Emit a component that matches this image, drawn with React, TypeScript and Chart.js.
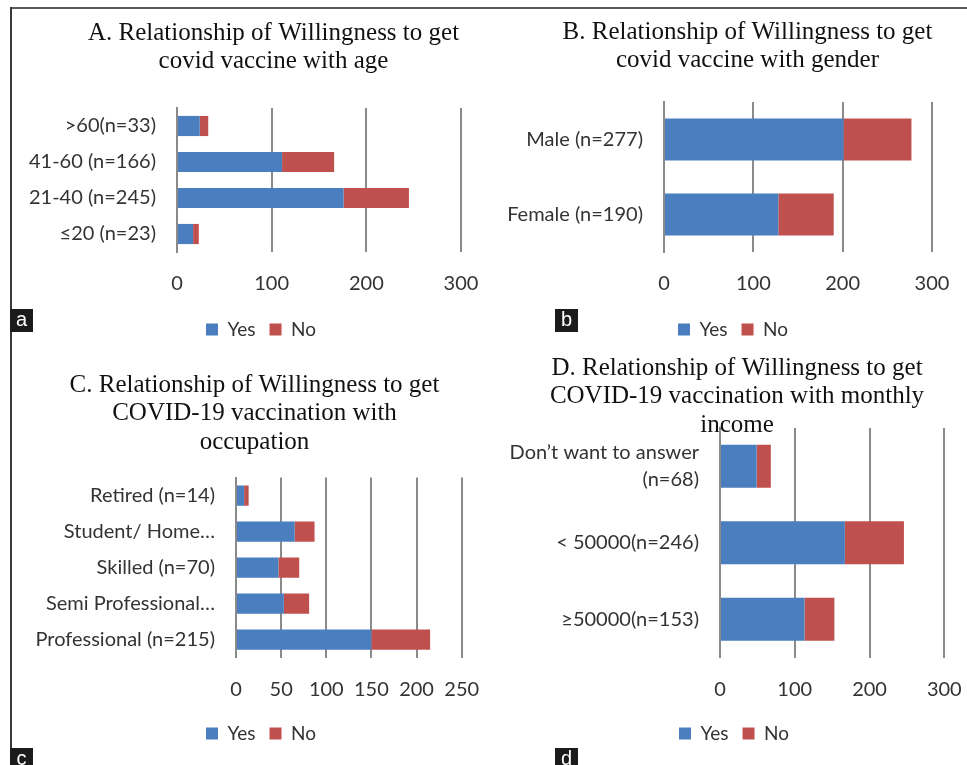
import React, { useEffect, useRef } from "react";
import { Chart, registerables } from "chart.js";

Chart.register(...registerables);

// ---------- DATA ----------
const seriesNames = ["Yes", "No"];

const ageLabels = [">60(n=33)", "41-60 (n=166)", "21-40 (n=245)", "≤20 (n=23)"];
const ageYes = [24, 111, 176, 17];
const ageNo = [9, 55, 69, 6];
const ageTicks = [0, 100, 200, 300];

const genderLabels = ["Male (n=277)", "Female (n=190)"];
const genderYes = [201, 128];
const genderNo = [76, 62];
const genderTicks = [0, 100, 200, 300];

const occupationLabels = [
  "Retired (n=14)",
  "Student/ Home…",
  "Skilled (n=70)",
  "Semi Professional…",
  "Professional (n=215)",
];
const occupationYes = [9, 65, 47, 53, 150];
const occupationNo = [5, 22, 23, 28, 65];
const occupationTicks = [0, 50, 100, 150, 200, 250];

const incomeLabels: (string | string[])[] = [
  ["Don’t want to answer", "(n=68)"],
  "< 50000(n=246)",
  "≥50000(n=153)",
];
const incomeYes = [49, 167, 113];
const incomeNo = [19, 79, 40];
const incomeTicks = [0, 100, 200, 300];

const titleA = ["A. Relationship of Willingness to get", "covid vaccine with age"];
const titleB = ["B. Relationship of Willingness to get", "covid vaccine with gender"];
const titleC = ["C. Relationship of Willingness to get", "COVID-19 vaccination with", "occupation"];
const titleD = ["D. Relationship of Willingness to get", "COVID-19 vaccination with monthly", "income"];

// ---------- STYLE ----------
const BLUE = "#4A7EBF";
const RED = "#C0504D";
const GRID = "#8A8A8A";
const TEXT = "#333333";

type Layout = {
  left: number;
  top: number;
  width: number;
  height: number;
  padTop: number;
  padBottom: number;
  yWidth: number;
  padRight: number;
  xHeight: number;
  legendShift: number;
};

type PanelProps = {
  labels: (string | string[])[];
  yes: number[];
  no: number[];
  ticks: number[];
  title: string[];
  layout: Layout;
};

function Panel({ labels, yes, no, ticks, title, layout }: PanelProps) {
  const ref = useRef<HTMLCanvasElement | null>(null);
  useEffect(() => {
    if (!ref.current) return;
    const shiftPlugin = {
      id: "shiftLegend",
      afterLayout(chart: any) {
        const lg = chart.legend;
        if (lg) {
          lg.left += layout.legendShift;
          lg.right += layout.legendShift;
        }
      },
    };
    const chart = new Chart(ref.current, {
      type: "bar",
      data: {
        labels,
        datasets: [
          {
            label: seriesNames[0],
            data: yes,
            backgroundColor: BLUE,
            barPercentage: 0.56,
            categoryPercentage: 1,
          },
          {
            label: seriesNames[1],
            data: no,
            backgroundColor: RED,
            barPercentage: 0.56,
            categoryPercentage: 1,
          },
        ],
      },
      options: {
        indexAxis: "y",
        responsive: false,
        maintainAspectRatio: false,
        animation: false,
        layout: { padding: 0 },
        scales: {
          x: {
            stacked: true,
            min: ticks[0],
            max: ticks[ticks.length - 1],
            ticks: {
              stepSize: ticks[1] - ticks[0],
              padding: 20,
              color: TEXT,
              font: { family: "Lato", size: 20 },
              autoSkip: false,
              maxRotation: 0,
            },
            grid: { color: GRID, lineWidth: 2, drawTicks: false },
            border: { display: false },
            afterFit: (s: any) => {
              s.height = layout.xHeight;
              s.paddingRight = layout.padRight;
            },
          },
          y: {
            stacked: true,
            grid: { display: false, drawTicks: false },
            border: { display: true, color: GRID, width: 2 },
            ticks: {
              padding: 21,
              color: TEXT,
              font: { family: "Lato", size: 20, lineHeight: 1.35 },
              autoSkip: false,
            },
            afterFit: (s: any) => {
              s.width = layout.yWidth;
            },
          },
        },
        plugins: {
          title: {
            display: true,
            text: title,
            color: "#111111",
            font: { family: "Liberation Serif", size: 25, weight: "normal", lineHeight: 1.15 },
            padding: { top: layout.padTop, bottom: layout.padBottom },
          },
          legend: {
            position: "bottom",
            labels: {
              boxWidth: 12,
              boxHeight: 12,
              padding: 14,
              color: TEXT,
              font: { family: "Lato", size: 19 },
            },
          },
          tooltip: { enabled: false },
        },
      } as any,
      plugins: [shiftPlugin],
    });
    return () => chart.destroy();
  }, []);
  return (
    <canvas
      ref={ref}
      width={layout.width}
      height={layout.height}
      style={{
        position: "absolute",
        left: layout.left,
        top: layout.top,
        width: layout.width,
        height: layout.height,
      }}
    />
  );
}

// title line height = 25 * 1.15 = 28.75
const layoutA: Layout = { left: 10, top: 8, width: 527, height: 341, padTop: 10.6, padBottom: 31.9, yWidth: 167, padRight: 76, xHeight: 54, legendShift: -12.5 };
const layoutB: Layout = { left: 490, top: 8, width: 515, height: 341, padTop: 9.6, padBottom: 26.9, yWidth: 174, padRight: 73, xHeight: 54, legendShift: -14.5 };
const layoutC: Layout = { left: 10, top: 345, width: 489, height: 408, padTop: 25.6, padBottom: 20.7, yWidth: 226, padRight: 37.3, xHeight: 52.4, legendShift: 6.5 };
const layoutD: Layout = { left: 490, top: 345, width: 494, height: 408, padTop: 8.6, padBottom: -11.9, yWidth: 230, padRight: 39.7, xHeight: 52.5, legendShift: -3 };

function Tag({ text, left, top }: { text: string; left: number; top: number }) {
  return (
    <div
      style={{
        position: "absolute",
        left,
        top,
        width: 23,
        height: 23,
        background: "#1b1b1b",
        color: "#fff",
        fontFamily: "Liberation Sans, Arial, sans-serif",
        fontSize: 20,
        lineHeight: "21px",
        textAlign: "center",
      }}
    >
      {text}
    </div>
  );
}

export default function App() {
  return (
    <div
      style={{
        position: "absolute",
        left: 0,
        top: 0,
        width: 967,
        height: 765,
        overflow: "hidden",
        background: "#fff",
      }}
    >
      <div style={{ position: "absolute", left: 10, top: 7, width: 957, height: 0, borderTop: "2px solid #5a5a5a" }} />
      <div style={{ position: "absolute", left: 10, top: 7, width: 0, height: 741, borderLeft: "2px solid #3a3a3a" }} />
      <Panel labels={ageLabels} yes={ageYes} no={ageNo} ticks={ageTicks} title={titleA} layout={layoutA} />
      <Panel labels={genderLabels} yes={genderYes} no={genderNo} ticks={genderTicks} title={titleB} layout={layoutB} />
      <Panel labels={occupationLabels} yes={occupationYes} no={occupationNo} ticks={occupationTicks} title={titleC} layout={layoutC} />
      <Panel labels={incomeLabels} yes={incomeYes} no={incomeNo} ticks={incomeTicks} title={titleD} layout={layoutD} />
      <Tag text="a" left={10} top={309} />
      <Tag text="b" left={555} top={309} />
      <Tag text="c" left={10} top={748} />
      <Tag text="d" left={555} top={748} />
    </div>
  );
}
